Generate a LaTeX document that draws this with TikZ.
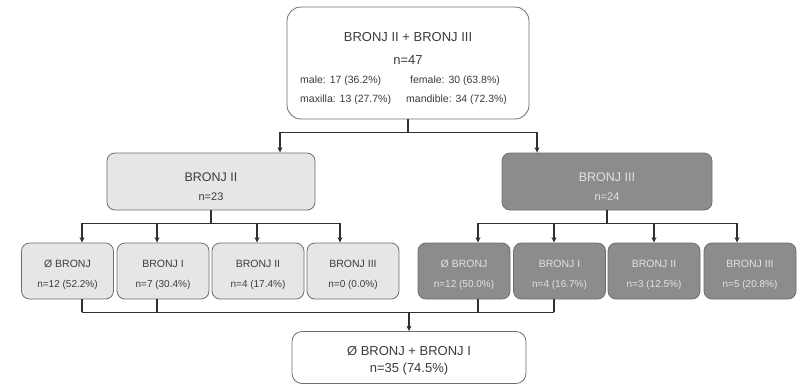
\documentclass[tikz,border=0pt]{standalone}
\usepackage{fontspec}
\setmainfont{Liberation Sans}
\usetikzlibrary{arrows.meta}
\definecolor{txt}{HTML}{3C3C3C}
\definecolor{lightfill}{HTML}{E6E6E6}
\definecolor{darkfill}{HTML}{8C8C8C}
\definecolor{darktxt}{HTML}{E2E2E2}
\definecolor{edge}{HTML}{6E6E6E}
\definecolor{wire}{HTML}{303030}
\tikzset{
  box/.style={draw=edge, line width=0.8pt, rounded corners=8pt, inner sep=0pt},
  lightbox/.style={box, fill=lightfill},
  darkbox/.style={box, fill=darkfill},
  leaf/.style={minimum width=92pt, minimum height=56pt},
  lbl/.style={inner sep=0pt, text=txt, align=center},
  dlbl/.style={lbl, text=darktxt},
  leaftxt/.style={font=\fontsize{10.5}{20}\selectfont},
  conn/.style={draw=wire, line width=1.4pt},
  arr/.style={conn, -{Stealth[length=5.5pt,width=5pt]}},
}
\newcommand\leafcontent[2]{#1\\{\fontsize{10}{12}\selectfont #2}}
\begin{document}
\begin{tikzpicture}[x=1pt,y=-1pt]
\useasboundingbox (0,0) rectangle (799,384);
\fill[white] (0,0) rectangle (799,384);

\node[box, fill=white, rounded corners=14pt, minimum width=242pt, minimum height=112pt] (top) at (408,63) {};
\node[lbl, font=\fontsize{13}{15}\selectfont] (tt) at (408,37) {BRONJ II + BRONJ III};
\node[lbl, font=\fontsize{13}{15}\selectfont] (tn) at (408,60) {n=47};
\node[lbl, font=\fontsize{10.5}{12}\selectfont, anchor=west] (tm) at (300,81) {male: 17 (36.2\%)};
\node[lbl, font=\fontsize{10.5}{12}\selectfont, anchor=west] (tf) at (410,81) {female: 30 (63.8\%)};
\node[lbl, font=\fontsize{10.5}{12}\selectfont, anchor=west] (tx) at (300,100) {maxilla: 13 (27.7\%)};
\node[lbl, font=\fontsize{10.5}{12}\selectfont, anchor=west] (td) at (406,100) {mandible: 34 (72.3\%)};

\node[lightbox, minimum width=208pt, minimum height=57pt] (b2) at (211,181.5) {};
\node[lbl, font=\fontsize{12.5}{14}\selectfont] (b2t) at (211,177) {BRONJ II};
\node[lbl, font=\fontsize{11}{13}\selectfont] (b2n) at (211,197) {n=23};
\node[darkbox, minimum width=210pt, minimum height=57pt] (b3) at (607,181.5) {};
\node[dlbl, font=\fontsize{12.5}{14}\selectfont] (b3t) at (607,177) {BRONJ III};
\node[dlbl, font=\fontsize{11}{13}\selectfont] (b3n) at (607,197) {n=24};

\node[lightbox, leaf] (c1) at (67.5,271) {};
\node[lightbox, leaf] (c2) at (163,271) {};
\node[lightbox, leaf] (c3) at (258,271) {};
\node[lightbox, leaf] (c4) at (353,271) {};
\node[darkbox, leaf] (c5) at (464,271) {};
\node[darkbox, leaf] (c6) at (559.5,271) {};
\node[darkbox, leaf] (c7) at (654,271) {};
\node[darkbox, leaf] (c8) at (750,271) {};
\node[lbl, leaftxt] (c1t) at ([yshift=-3.5pt]c1.center) {\leafcontent{Ø BRONJ}{n=12 (52.2\%)}};
\node[lbl, leaftxt] (c2t) at ([yshift=-3.5pt]c2.center) {\leafcontent{BRONJ I}{n=7 (30.4\%)}};
\node[lbl, leaftxt] (c3t) at ([yshift=-3.5pt]c3.center) {\leafcontent{BRONJ II}{n=4 (17.4\%)}};
\node[lbl, leaftxt] (c4t) at ([yshift=-3.5pt]c4.center) {\leafcontent{BRONJ III}{n=0 (0.0\%)}};
\node[dlbl, leaftxt] (c5t) at ([yshift=-3.5pt]c5.center) {\leafcontent{Ø BRONJ}{n=12 (50.0\%)}};
\node[dlbl, leaftxt] (c6t) at ([yshift=-3.5pt]c6.center) {\leafcontent{BRONJ I}{n=4 (16.7\%)}};
\node[dlbl, leaftxt] (c7t) at ([yshift=-3.5pt]c7.center) {\leafcontent{BRONJ II}{n=3 (12.5\%)}};
\node[dlbl, leaftxt] (c8t) at ([yshift=-3.5pt]c8.center) {\leafcontent{BRONJ III}{n=5 (20.8\%)}};

\node[box, fill=white, rounded corners=10pt, minimum width=234pt, minimum height=52pt] (bot) at (409,357.5) {};
\node[lbl, font=\fontsize{13}{17}\selectfont] (bott) at ([yshift=-3pt]bot.center) {Ø BRONJ + BRONJ I\\n=35 (74.5\%)};

% top -> level 2
\draw[conn] (top.south) -- ++(0,13) coordinate (h1);
\draw[arr] (h1) -| ([xshift=69]b2.north);
\draw[arr] (h1) -| ([xshift=-70]b3.north);

% level 2 -> level 3
\draw[conn] (b2.south) -- ++(0,13) coordinate (h2);
\draw[arr] (h2) -| ([xshift=14.5]c1.north);
\draw[arr] (h2) -| ([xshift=-6]c2.north);
\draw[arr] (h2) -| ([xshift=-1]c3.north);
\draw[arr] (h2) -| ([xshift=-13]c4.north);
\draw[conn] (b3.south) -- ++(0,13) coordinate (h3);
\draw[arr] (h3) -| ([xshift=14]c5.north);
\draw[arr] (h3) -| ([xshift=-5.5]c6.north);
\draw[arr] (h3) -| (c7.north);
\draw[arr] (h3) -| ([xshift=-13]c8.north);

% level 3 -> bottom
\draw[conn] ([xshift=14.5]c1.south) -- ++(0,13) coordinate (bl);
\draw[conn] ([xshift=-5.5]c6.south) -- ++(0,13) coordinate (br);
\draw[conn] (bl) -- (br);
\draw[conn] ([xshift=-6]c2.south) -- ([xshift=-6]c2.south |- bl);
\draw[conn] ([xshift=14]c5.south) -- ([xshift=14]c5.south |- bl);
\draw[arr] (bot.north |- bl) -- (bot.north);
\end{tikzpicture}
\end{document}
